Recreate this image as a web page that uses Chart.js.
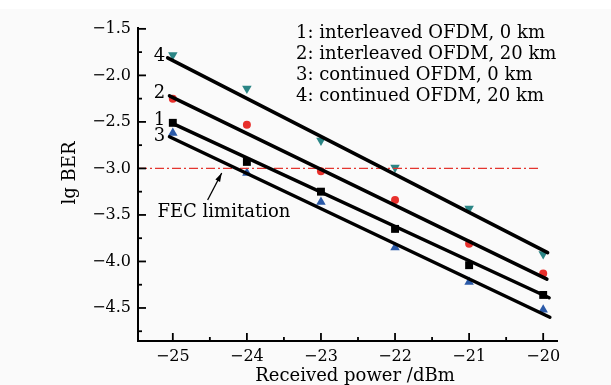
<!DOCTYPE html>
<html><head><meta charset="utf-8">
<script src="https://cdn.jsdelivr.net/npm/chart.js@4"></script>
<style>html,body{margin:0;padding:0;background:#fff}</style>
</head><body>
<canvas id="c" width="611" height="385"></canvas>
<script>
// ---- data ----
const powers = [-25, -24, -23, -22, -21, -20];
const interleaved0km  = [-2.51, -2.93, -3.25, -3.65, -4.04, -4.36];
const interleaved20km = [-2.25, -2.53, -3.03, -3.34, -3.81, -4.13];
const continued0km    = [-2.62, -3.05, -3.36, -3.85, -4.22, -4.52];
const continued20km   = [-1.78, -2.14, -2.70, -2.99, -3.43, -3.92];

// fitted lines: [startX, startY, endX, endY]
const fit1 = [-25.02, -2.51, -19.92, -4.39];
const fit2 = [-25.045, -2.22, -19.95, -4.19];
const fit3 = [-25.045, -2.66, -19.91, -4.60];
const fit4 = [-25.07, -1.812, -19.94, -3.905];

const fecLimit = -3.0;
const fecRange = [-25.47, -20.03];
const legendLines = [
  '1: interleaved OFDM, 0 km',
  '2: interleaved OFDM, 20 km',
  '3: continued OFDM, 0 km',
  '4: continued OFDM, 20 km'
];
const curveTags = ['4', '2', '1', '3'];
const xTitle = 'Received power /dBm';
const yTitle = 'lg BER';
const fecText = 'FEC limitation';

const MINUS = '\u2212';
const SERIF = '"DejaVu Serif", "Liberation Serif", serif';

function pts(xs, ys) { return xs.map((v, i) => ({x: v, y: ys[i]})); }
function fitPts(f) { return [{x: f[0], y: f[1]}, {x: f[2], y: f[3]}]; }
function fitDs(f) {
  return {type: 'line', data: fitPts(f), borderColor: '#000', borderWidth: 3.5,
          pointRadius: 0, fill: false, borderCapStyle: 'round'};
}
function markerDs(ys, style, color, radius, rot) {
  return {type: 'scatter', data: pts(powers, ys), pointStyle: style, pointRadius: radius,
          pointRotation: rot || 0, backgroundColor: color, borderColor: color, borderWidth: 0};
}

const overlay = {
  id: 'overlay',
  beforeDraw(chart) {
    const ctx = chart.ctx;
    ctx.save();
    ctx.fillStyle = '#ffffff'; ctx.fillRect(0, 0, 611, 385);
    ctx.fillStyle = '#fafafa'; ctx.fillRect(0, 9, 611, 376);
    ctx.restore();
  },
  afterDatasetsDraw(chart) {
    const {ctx, chartArea: a, scales: {x, y}} = chart;
    ctx.save();
    ctx.strokeStyle = '#000';
    ctx.lineWidth = 2;
    ctx.beginPath();
    ctx.moveTo(a.left, a.top); ctx.lineTo(a.left, a.bottom); ctx.lineTo(a.right, a.bottom);
    ctx.stroke();
    ctx.lineWidth = 1.8;
    x.ticks.forEach(t => {
      const px = x.getPixelForValue(t.value);
      const major = Math.abs(t.value - Math.round(t.value)) < 1e-6;
      ctx.beginPath(); ctx.moveTo(px, a.bottom); ctx.lineTo(px, a.bottom - (major ? 8 : 4)); ctx.stroke();
    });
    y.ticks.forEach(t => {
      const py = y.getPixelForValue(t.value);
      const major = Math.abs(t.value * 2 - Math.round(t.value * 2)) < 1e-6;
      ctx.beginPath(); ctx.moveTo(a.left, py); ctx.lineTo(a.left + (major ? 8 : 4), py); ctx.stroke();
    });
    ctx.restore();
  },
  afterDraw(chart) {
    const {ctx, chartArea: a, scales: {x, y}} = chart;
    ctx.save();
    ctx.fillStyle = '#000';
    ctx.textBaseline = 'middle';
    // legend text
    ctx.font = '18px ' + SERIF;
    ctx.textAlign = 'left';
    legendLines.forEach((s, i) => ctx.fillText(s, 296, 33 + i * 21.2));
    // curve tags
    const tagY = [-1.80, -2.19, -2.48, -2.66];
    ctx.textAlign = 'center';
    curveTags.forEach((s, i) => ctx.fillText(s, x.getPixelForValue(-25.18), y.getPixelForValue(tagY[i])));
    // FEC text
    ctx.textAlign = 'left';
    ctx.fillText(fecText, x.getPixelForValue(-25.207), y.getPixelForValue(-3.47));
    // arrow
    const x0 = x.getPixelForValue(-24.53), y0 = y.getPixelForValue(-3.34);
    const x1 = x.getPixelForValue(-24.34), y1 = y.getPixelForValue(-3.05);
    ctx.strokeStyle = '#000'; ctx.lineWidth = 1.3;
    ctx.beginPath(); ctx.moveTo(x0, y0); ctx.lineTo(x1, y1); ctx.stroke();
    const ang = Math.atan2(y1 - y0, x1 - x0);
    ctx.beginPath();
    ctx.moveTo(x1, y1);
    ctx.lineTo(x1 - 9 * Math.cos(ang - 0.3), y1 - 9 * Math.sin(ang - 0.3));
    ctx.lineTo(x1 - 9 * Math.cos(ang + 0.3), y1 - 9 * Math.sin(ang + 0.3));
    ctx.closePath(); ctx.fillStyle = '#000'; ctx.fill();
    // axis titles
    ctx.fillStyle = '#000';
    ctx.font = '18px ' + SERIF;
    ctx.textAlign = 'center';
    ctx.fillText(xTitle, 355, 376);
    ctx.translate(70, 173);
    ctx.rotate(-Math.PI / 2);
    ctx.fillText(yTitle, 0, 0);
    ctx.restore();
  }
};

new Chart(document.getElementById('c'), {
  data: {
    datasets: [
      fitDs(fit4), fitDs(fit2), fitDs(fit1), fitDs(fit3),
      {type: 'line', data: [{x: fecRange[0], y: fecLimit}, {x: fecRange[1], y: fecLimit}],
       borderColor: '#e4352f', borderWidth: 1.2, borderDash: [9, 3, 2, 3], pointRadius: 0, fill: false},
      markerDs(interleaved0km, 'rect', '#000000', 5.6),
      markerDs(interleaved20km, 'circle', '#e8302c', 4),
      markerDs(continued0km, 'triangle', '#2b5aa8', 5.5),
      markerDs(continued20km, 'triangle', '#2a8585', 5.5, 180)
    ]
  },
  options: {
    responsive: false,
    animation: false,
    devicePixelRatio: 1,
    layout: {padding: {top: 27, right: 53, left: 0, bottom: 0}},
    plugins: {legend: {display: false}, tooltip: {enabled: false}},
    scales: {
      x: {
        type: 'linear', min: -25.47, max: -19.8,
        grid: {display: false, drawTicks: false}, border: {display: false},
        afterFit(s) { s.height = 44; },
        ticks: {
          stepSize: 0.5, includeBounds: false, autoSkip: false, maxRotation: 0, padding: 6,
          color: '#000', font: {family: SERIF, size: 16},
          callback: v => Math.abs(v - Math.round(v)) < 1e-6 ? String(Math.round(v)).replace('-', MINUS) : ''
        }
      },
      y: {
        type: 'linear', min: -4.855, max: -1.48,
        grid: {display: false, drawTicks: false}, border: {display: false},
        afterFit(s) { s.width = 138; },
        ticks: {
          stepSize: 0.25, includeBounds: false, autoSkip: false, padding: 7,
          color: '#000', font: {family: SERIF, size: 16},
          callback: v => Math.abs(v * 2 - Math.round(v * 2)) < 1e-6 ? v.toFixed(1).replace('-', MINUS) : ''
        }
      }
    }
  },
  plugins: [overlay]
});
</script>
</body></html>
